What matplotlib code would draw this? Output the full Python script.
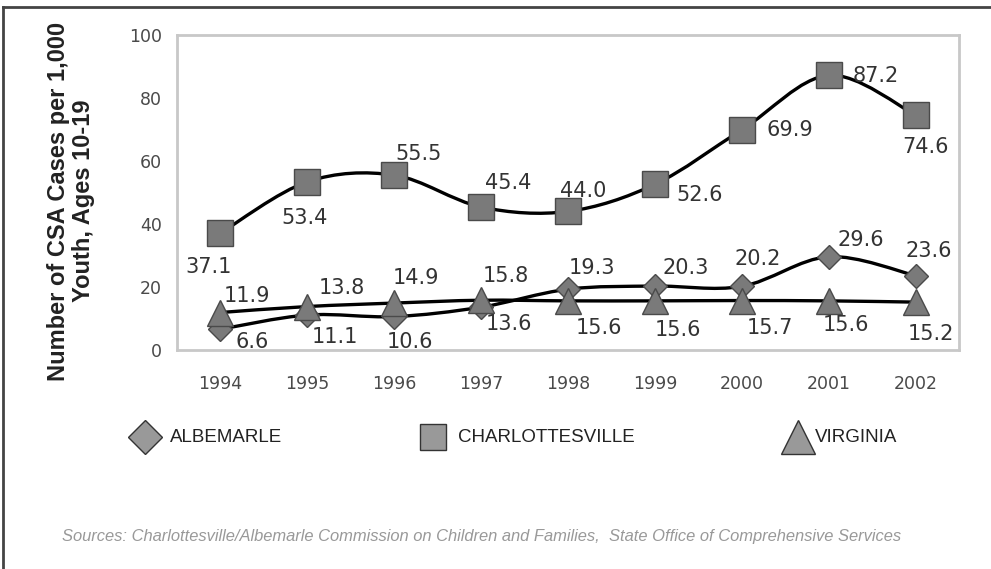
import matplotlib.pyplot as plt
from matplotlib.path import Path
from matplotlib.patches import PathPatch
from matplotlib.lines import Line2D
import numpy as np

# data
years = ["1994", "1995", "1996", "1997", "1998", "1999", "2000", "2001", "2002"]
albemarle = [6.6, 11.1, 10.6, 13.6, 19.3, 20.3, 20.2, 29.6, 23.6]
charlottesville = [37.1, 53.4, 55.5, 45.4, 44.0, 52.6, 69.9, 87.2, 74.6]
virginia = [11.9, 13.8, 14.9, 15.8, 15.6, 15.6, 15.7, 15.6, 15.2]
names = ["ALBEMARLE", "CHARLOTTESVILLE", "VIRGINIA"]

# label offsets in pixels (dx, dy) from each marker
off_alb = [(32, -13), (28, -22), (16, -25), (28, -17), (24, 21), (31, 18), (16, 27), (32, 17), (13, 25)]
off_cha = [(-12, -34), (-3, -36), (24, 21), (27, 24), (15, 20), (45, -11), (48, 0), (47, -1), (10, -32)]
off_vir = [(26, 17), (34, 19), (22, 25), (25, 24), (31, -27), (23, -29), (28, -27), (17, -24), (15, -32)]

fill = "#7a7a7a"
edge = "#4a4a4a"
W, H = 991, 569


def smooth_path(x, y):
    # excel-style smoothed line: catmull-rom turned into bezier segments
    pts = np.column_stack([x, y]).astype(float)
    n = len(pts)
    verts = [pts[0]]
    codes = [Path.MOVETO]
    for i in range(n - 1):
        p0 = pts[max(i - 1, 0)]
        p1 = pts[i]
        p2 = pts[i + 1]
        p3 = pts[min(i + 2, n - 1)]
        verts += [p1 + (p2 - p0) / 6, p2 - (p3 - p1) / 6, p2]
        codes += [Path.CURVE4] * 3
    return Path(verts, codes)


fig = plt.figure(figsize=(9.91, 5.69), dpi=100)
ax = fig.add_axes([177 / W, 1 - 350 / H, (959 - 177) / W, (350 - 35) / H])

x = np.arange(len(years))
series = [
    (charlottesville, "s", 19, off_cha),
    (albemarle, "D", 12.5, off_alb),
    (virginia, "^", 19, off_vir),
]
for vals, mk, ms, offs in series:
    ax.add_patch(PathPatch(smooth_path(x, vals), fill=False, lw=2.4, edgecolor="black", zorder=2))
    ax.plot(x, vals, ls="none", marker=mk, ms=ms, mfc=fill, mec=edge, mew=1, zorder=3)
    for xi, v, (dx, dy) in zip(x, vals, offs):
        ax.annotate(f"{v:.1f}", (xi, v), xytext=(dx, dy), textcoords="offset pixels",
                    ha="center", va="center", fontsize=15, color="#333333", zorder=4)

ax.set_xlim(-0.5, len(years) - 0.5)
ax.set_ylim(0, 100)
ax.set_yticks([0, 20, 40, 60, 80, 100])
ax.set_xticks(x)
ax.set_xticklabels(years)
ax.tick_params(axis="both", length=0, labelsize=12.5, labelcolor="#4a4a4a")
ax.tick_params(axis="x", pad=18)
ax.tick_params(axis="y", pad=11)
for s in ax.spines.values():
    s.set_color("#c8c8c8")
    s.set_linewidth(2)

fig.text(71 / W, 1 - 201 / H, "Number of CSA Cases per 1,000\nYouth, Ages 10-19",
         rotation=90, ha="center", va="center", multialignment="center",
         fontsize=17, fontweight="bold", family="Liberation Sans", color="#222222",
         linespacing=1.1)

# legend, laid out by hand to match the original spacing
leg_marker = [("D", 17), ("s", 19), ("^", 25)]
leg_mx = [145, 433, 798]
leg_tx = [170, 458, 815]
for (mk, ms), mx, tx, name in zip(leg_marker, leg_mx, leg_tx, names):
    fig.add_artist(Line2D([mx / W], [1 - 437 / H], transform=fig.transFigure, ls="none",
                          marker=mk, ms=ms, mfc="#999999", mec="#333333", mew=1))
    fig.text(tx / W, 1 - 437 / H, name, ha="left", va="center", fontsize=13.5,
             family="Liberation Sans", color="#222222")

fig.text(62 / W, 1 - 537 / H,
         "Sources: Charlottesville/Albemarle Commission on Children and Families,  State Office of Comprehensive Services",
         ha="left", va="center", fontsize=11.9, style="italic", family="Liberation Sans", color="#999999")

# outer frame (top and left edges only)
fig.add_artist(Line2D([3 / W, 1], [1 - 7 / H, 1 - 7 / H], transform=fig.transFigure, color="#444444", lw=2))
fig.add_artist(Line2D([3 / W, 3 / W], [0, 1 - 7 / H], transform=fig.transFigure, color="#444444", lw=2))

fig.savefig("out.png", dpi=100)
